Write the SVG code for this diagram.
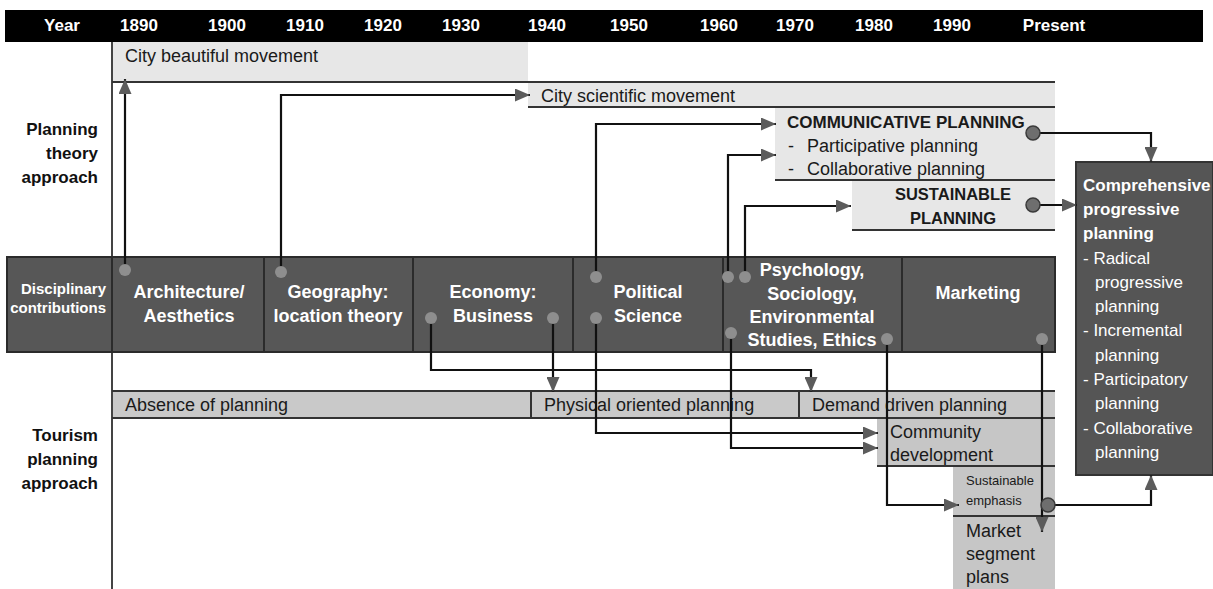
<svg xmlns="http://www.w3.org/2000/svg" width="1213" height="589" viewBox="0 0 1213 589">
<defs>
<style>
text{font-family:"Liberation Sans",Arial,sans-serif}
.hdr{fill:#fff;font-weight:bold;font-size:17px;text-anchor:middle}
.lbl{fill:#1a1a1a;font-size:18px}
.bold{font-weight:bold}
.side{fill:#111;font-weight:bold;font-size:17px;text-anchor:end}
.band{fill:#fff;font-weight:bold;font-size:18px;text-anchor:middle}
.cmp{fill:#fff;font-size:17px}
.edge{stroke:#333;stroke-width:2;fill:none}
.conn{stroke:#111;stroke-width:2.2;fill:none;marker-end:url(#arr)}
.dot{fill:#8e8e8e}
.cdot{fill:#6e6e6e;stroke:#3a3a3a;stroke-width:1.5}
</style>
<marker id="arr" markerUnits="userSpaceOnUse" markerWidth="15" markerHeight="13" refX="15" refY="6.5" orient="auto">
<path d="M0,0 L15,6.5 L0,13 z" fill="#5c5c5c"/>
</marker>
</defs>
<rect width="1213" height="589" fill="#fff"/>

<g id="header">
<rect x="5" y="10" width="1198" height="32" fill="#000"/>
<text class="hdr" x="62" y="31">Year</text>
<text class="hdr" x="139" y="31">1890</text>
<text class="hdr" x="227" y="31">1900</text>
<text class="hdr" x="305" y="31">1910</text>
<text class="hdr" x="383" y="31">1920</text>
<text class="hdr" x="461" y="31">1930</text>
<text class="hdr" x="547" y="31">1940</text>
<text class="hdr" x="629" y="31">1950</text>
<text class="hdr" x="719" y="31">1960</text>
<text class="hdr" x="795" y="31">1970</text>
<text class="hdr" x="874" y="31">1980</text>
<text class="hdr" x="952" y="31">1990</text>
<text class="hdr" x="1054" y="31">Present</text>
</g>

<g id="axis">
<line x1="112" y1="42" x2="112" y2="589" stroke="#444" stroke-width="2"/>
</g>

<g id="side-labels">
<text class="side" x="98" y="135">Planning</text>
<text class="side" x="98" y="159">theory</text>
<text class="side" x="98" y="183">approach</text>
<text class="side" x="98" y="441">Tourism</text>
<text class="side" x="98" y="465">planning</text>
<text class="side" x="98" y="489">approach</text>
</g>

<g id="city-beautiful">
<rect x="113" y="42" width="415" height="40" fill="#e7e7e7"/>
<text class="lbl" x="125" y="62">City beautiful movement</text>
</g>

<g id="city-scientific">
<rect x="528" y="82" width="527" height="25" fill="#e7e7e7"/>
<text class="lbl" x="541" y="102">City scientific movement</text>
</g>

<g id="communicative">
<rect x="775" y="107" width="280" height="73" fill="#e7e7e7"/>
<text class="lbl bold" x="787" y="128" style="font-size:17px">COMMUNICATIVE PLANNING</text>
<text class="lbl" x="788" y="152">-</text>
<text class="lbl" x="807" y="152">Participative planning</text>
<text class="lbl" x="788" y="175">-</text>
<text class="lbl" x="807" y="175">Collaborative planning</text>
</g>

<g id="sustainable-planning">
<rect x="852" y="180" width="203" height="50" fill="#e7e7e7"/>
<text class="lbl bold" x="953" y="200" text-anchor="middle" style="font-size:16.5px">SUSTAINABLE</text>
<text class="lbl bold" x="953" y="224" text-anchor="middle" style="font-size:16.5px">PLANNING</text>
</g>

<g id="theory-lines">
<line x1="112" y1="82" x2="1055" y2="82" class="edge"/>
<line x1="528" y1="107" x2="1055" y2="107" class="edge"/>
<line x1="775" y1="180" x2="1055" y2="180" class="edge"/>
<line x1="852" y1="230" x2="1055" y2="230" class="edge"/>
</g>

<g id="comprehensive">
<rect x="1076" y="162" width="137" height="313" fill="#555" stroke="#333" stroke-width="2"/>
<text class="cmp bold" x="1083" y="191">Comprehensive</text>
<text class="cmp bold" x="1083" y="215">progressive</text>
<text class="cmp bold" x="1083" y="239">planning</text>
<text class="cmp" x="1083" y="264">- Radical</text>
<text class="cmp" x="1095" y="288">progressive</text>
<text class="cmp" x="1095" y="312">planning</text>
<text class="cmp" x="1083" y="336">- Incremental</text>
<text class="cmp" x="1095" y="361">planning</text>
<text class="cmp" x="1083" y="385">- Participatory</text>
<text class="cmp" x="1095" y="409">planning</text>
<text class="cmp" x="1083" y="434">- Collaborative</text>
<text class="cmp" x="1095" y="458">planning</text>
</g>

<g id="disciplinary-band">
<rect x="7" y="257" width="1048" height="95" fill="#575757" stroke="#2b2b2b" stroke-width="2"/>
<g stroke="#2b2b2b" stroke-width="2">
<line x1="112" y1="257" x2="112" y2="352"/>
<line x1="264" y1="257" x2="264" y2="352"/>
<line x1="413" y1="257" x2="413" y2="352"/>
<line x1="573" y1="257" x2="573" y2="352"/>
<line x1="723" y1="257" x2="723" y2="352"/>
<line x1="902" y1="257" x2="902" y2="352"/>
</g>
</g>
<g id="disciplinary-contributions">
<text class="band" x="106" y="294" style="font-size:15px;text-anchor:end">Disciplinary</text>
<text class="band" x="106" y="313" style="font-size:15px;text-anchor:end">contributions</text>
</g>
<g id="architecture">
<text class="band" x="189" y="298">Architecture/</text>
<text class="band" x="189" y="322">Aesthetics</text>
</g>
<g id="geography">
<text class="band" x="338" y="298">Geography:</text>
<text class="band" x="338" y="322">location theory</text>
</g>
<g id="economy">
<text class="band" x="493" y="298">Economy:</text>
<text class="band" x="493" y="322">Business</text>
</g>
<g id="political">
<text class="band" x="648" y="298">Political</text>
<text class="band" x="648" y="322">Science</text>
</g>
<g id="psychology">
<text class="band" x="812" y="276">Psychology,</text>
<text class="band" x="812" y="300">Sociology,</text>
<text class="band" x="812" y="323">Environmental</text>
<text class="band" x="812" y="346">Studies, Ethics</text>
</g>
<g id="marketing">
<text class="band" x="978" y="299">Marketing</text>
</g>

<g id="tourism-bar">
<rect x="113" y="391" width="942" height="27" fill="#c9c9c9"/>
<line x1="112" y1="391" x2="1055" y2="391" class="edge"/>
<line x1="112" y1="418" x2="1055" y2="418" class="edge"/>
<line x1="531" y1="391" x2="531" y2="418" class="edge"/>
<line x1="799" y1="391" x2="799" y2="418" class="edge"/>
</g>
<g id="absence">
<text class="lbl" x="125" y="411">Absence of planning</text>
</g>
<g id="physical">
<text class="lbl" x="544" y="411">Physical oriented planning</text>
</g>
<g id="demand">
<text class="lbl" x="812" y="411">Demand driven planning</text>
</g>

<g id="community">
<rect x="877" y="419" width="178" height="47" fill="#c6c6c6"/>
<line x1="877" y1="466" x2="1055" y2="466" class="edge"/>
<text class="lbl" x="890" y="438">Community</text>
<text class="lbl" x="890" y="461">development</text>
</g>

<g id="sustainable-emphasis">
<rect x="953" y="467" width="102" height="49" fill="#c6c6c6"/>
<line x1="953" y1="516" x2="1055" y2="516" class="edge"/>
<text class="lbl" x="966" y="485" style="font-size:13px">Sustainable</text>
<text class="lbl" x="966" y="505" style="font-size:13px">emphasis</text>
</g>

<g id="market-segment">
<rect x="953" y="517" width="102" height="72" fill="#c6c6c6"/>
<text class="lbl" x="966" y="537">Market</text>
<text class="lbl" x="966" y="560">segment</text>
<text class="lbl" x="966" y="583">plans</text>
</g>

<g id="connectors">
<path class="conn" d="M125,270 V79"/>
<path class="conn" d="M281,272 V95 H530"/>
<path class="conn" d="M596,277 V124 H776"/>
<path class="conn" d="M728,277 V155 H776"/>
<path class="conn" d="M745,277 V206 H851"/>
<path class="conn" d="M1033,133 H1151 V162"/>
<path class="conn" d="M1033,205 H1077"/>
<path class="conn" d="M431,318 V370 H811 V392"/>
<path class="conn" d="M553,318 V392"/>
<path class="conn" d="M596,318 V433 H878"/>
<path class="conn" d="M731,333 V448 H878"/>
<path class="conn" d="M887,339 V505 H959"/>
<path class="conn" d="M1042,339 V532"/>
<path class="conn" d="M1048,505 H1151 V475"/>
<circle class="dot" cx="125" cy="270" r="6"/>
<circle class="dot" cx="281" cy="272" r="6"/>
<circle class="dot" cx="431" cy="318" r="6"/>
<circle class="dot" cx="553" cy="318" r="6"/>
<circle class="dot" cx="596" cy="277" r="6"/>
<circle class="dot" cx="596" cy="318" r="6"/>
<circle class="dot" cx="728" cy="277" r="6"/>
<circle class="dot" cx="745" cy="277" r="6"/>
<circle class="dot" cx="731" cy="333" r="6"/>
<circle class="dot" cx="887" cy="339" r="6"/>
<circle class="dot" cx="1042" cy="339" r="6"/>
<circle class="cdot" cx="1033" cy="133" r="7"/>
<circle class="cdot" cx="1033" cy="205" r="7"/>
<circle class="cdot" cx="1048" cy="505" r="7"/>
</g>
</svg>
